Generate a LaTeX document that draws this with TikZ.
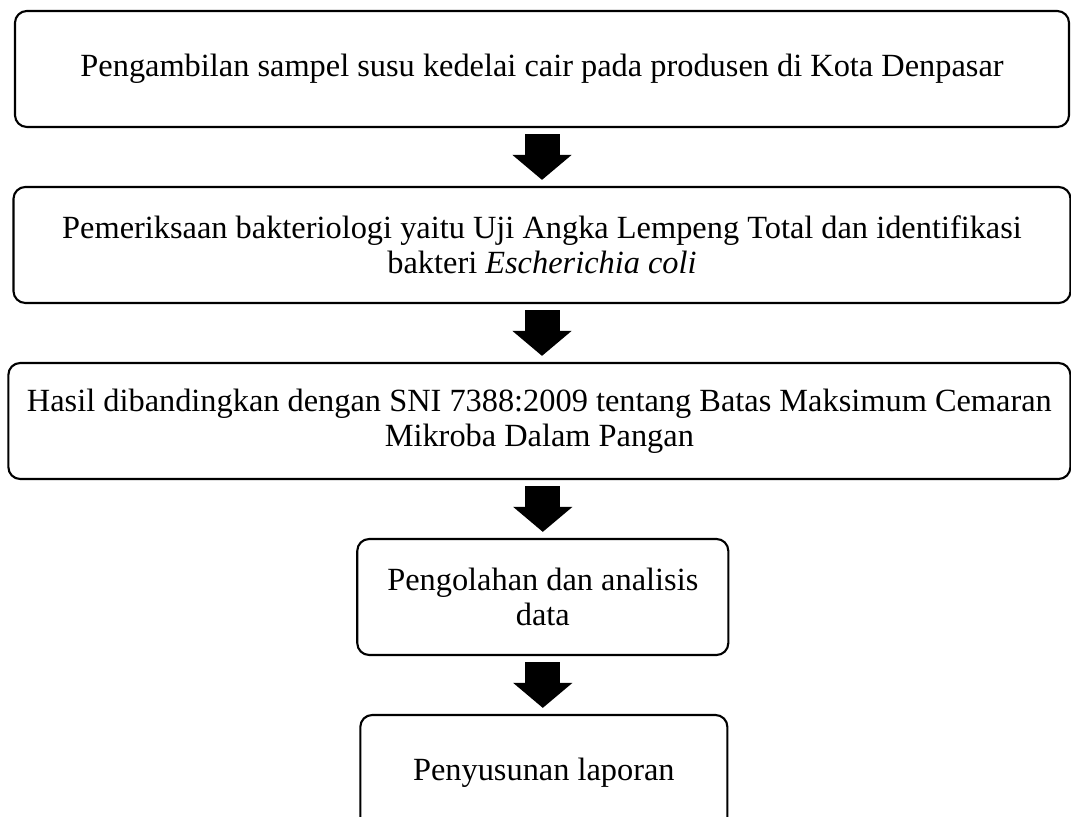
\documentclass[tikz,border=0pt]{standalone}
\usepackage{fontspec}
\setmainfont{Liberation Serif}
\usetikzlibrary{arrows.meta, positioning}
\newcommand{\pxu}{0.38pt}

\begin{document}
\begin{tikzpicture}[
  x=0.38pt, y=-0.38pt,
  node distance=22pt,
  font=\fontsize{12.3}{13.2}\selectfont,
  stage/.style={rectangle, rounded corners=4.5pt, draw, line width=0.8pt, align=center, minimum height={116*\pxu}, inner sep=2pt},
  arr/.style  ={line width=13.3pt, -{Triangle[width=22pt, length=9.5pt]}, shorten <=2.3pt, shorten >=2.3pt}
  ]
  \useasboundingbox (0,0) rectangle (1071,817);

  \node[stage, minimum width={1054*\pxu}] (ambil) at (542,69) {Pengambilan sampel susu kedelai cair pada produsen di Kota Denpasar};
  \node[stage, minimum width={1057*\pxu}, below=of ambil] (periksa) {Pemeriksaan bakteriologi yaitu Uji Angka Lempeng Total dan identifikasi\\bakteri \textit{Escherichia coli}};
  \node[stage, minimum width={1062*\pxu}, below=of periksa, xshift=-1pt] (banding) {Hasil dibandingkan dengan SNI 7388:2009 tentang Batas Maksimum Cemaran\\Mikroba Dalam Pangan};
  \node[stage, minimum width={371*\pxu}, below=of banding, xshift=1.3pt] (olah) {Pengolahan dan analisis\\data};
  \node[stage, minimum width={367*\pxu}, below=of olah, xshift=0.4pt] (lapor) {Penyusunan laporan};

  \draw[arr] (ambil.south)   -- (ambil.south |- periksa.north);
  \draw[arr] (periksa.south) -- (periksa.south |- banding.north);
  \draw[arr] (olah.north |- banding.south) -- (olah.north);
  \draw[arr] (olah.south)    -- (olah.south |- lapor.north);

\end{tikzpicture}
\end{document}
